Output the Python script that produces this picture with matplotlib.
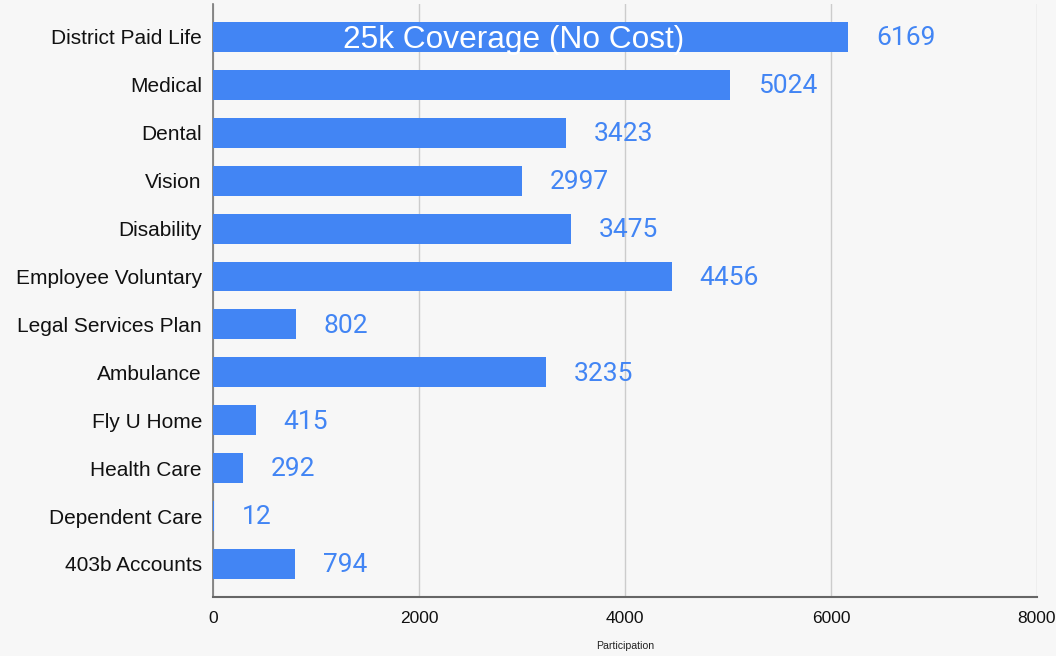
import matplotlib.pyplot as plt

# data
categories = ["District Paid Life", "Medical", "Dental", "Vision", "Disability",
              "Employee Voluntary", "Legal Services Plan", "Ambulance",
              "Fly U Home", "Health Care", "Dependent Care", "403b Accounts"]
participation = [6169, 5024, 3423, 2997, 3475, 4456, 802, 3235, 415, 292, 12, 794]
x_ticks = [0, 2000, 4000, 6000, 8000]

bleu = "#4285F4"
fond = "#f7f7f7"

fig = plt.figure(figsize=(10.56, 6.56), dpi=100, facecolor=fond)
ax = fig.add_axes([0.2017, 0.09, 0.7803, 0.904])
ax.set_facecolor(fond)

y = list(range(len(categories)))
ax.barh(y, participation, height=0.625, color=bleu, zorder=3)

# etiquettes de valeurs
for i, v in enumerate(participation):
    ax.annotate(str(v), (v, i), xytext=(20, -1), textcoords="offset points",
                ha="left", va="center", color=bleu, fontsize=19,
                family="Roboto", zorder=4)

# texte dans la premiere barre
ax.annotate("25k Coverage (No Cost)", (2920, 0), xytext=(0, -2.5),
            textcoords="offset points", ha="center", va="center",
            color="white", fontsize=22.8, family="Liberation Sans", zorder=4)

ax.set_ylim(len(categories) - 0.31, -0.69)
ax.set_xlim(0, 8000)
ax.set_yticks(y)
ax.set_yticklabels(categories, fontsize=15, family="Liberation Sans", color="#111111")
ax.set_xticks(x_ticks)
ax.set_xticklabels([str(t) for t in x_ticks], fontsize=12.5,
                   family="Liberation Sans", color="#111111")
ax.tick_params(axis="both", length=0)
ax.tick_params(axis="y", pad=8)
ax.tick_params(axis="x", pad=10)

ax.grid(axis="x", color="#cccccc", linewidth=1, zorder=0)
for s in ["top", "right"]:
    ax.spines[s].set_visible(False)
ax.spines["left"].set_color("#777777")
ax.spines["bottom"].set_color("#666666")
ax.spines["left"].set_linewidth(1.2)
ax.spines["bottom"].set_linewidth(1.5)

ax.set_xlabel("Participation", fontsize=7.6, family="Liberation Sans",
              color="#222222", labelpad=11)

plt.savefig("out.png", dpi=100, facecolor=fond)
